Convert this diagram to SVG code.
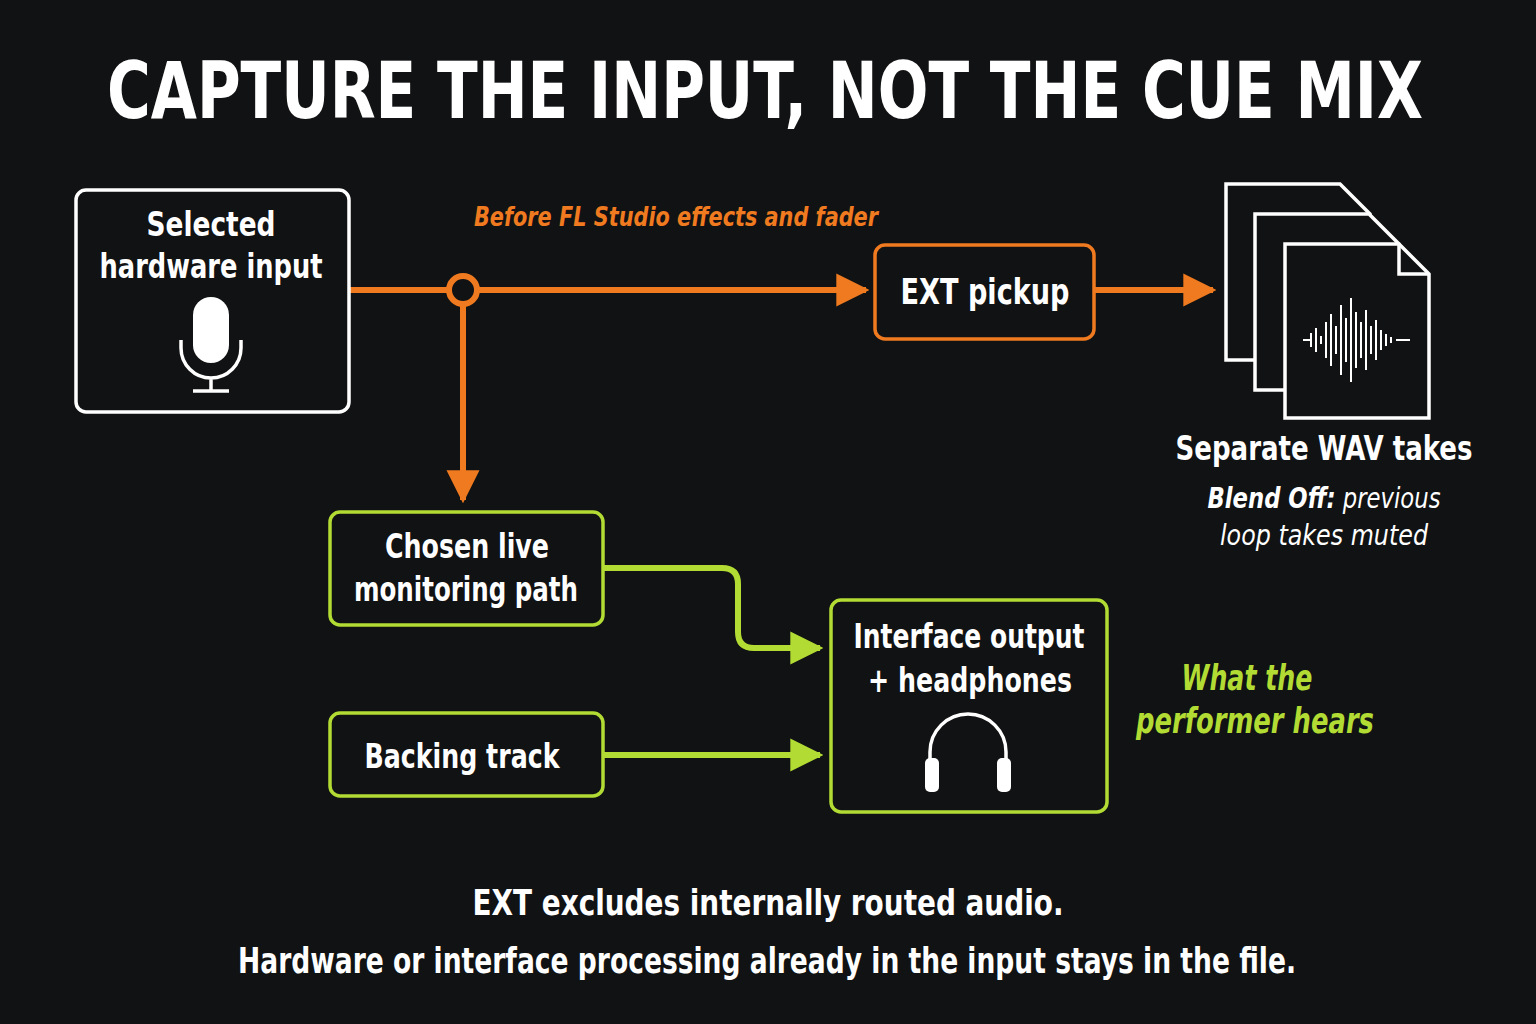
<svg xmlns="http://www.w3.org/2000/svg" width="1536" height="1024" viewBox="0 0 1536 1024">
<defs>
<style>
.t{font-family:"DejaVu Sans Condensed","DejaVu Sans",sans-serif;font-weight:bold;fill:#fff;text-anchor:middle}
.i{font-family:"DejaVu Sans Condensed","DejaVu Sans",sans-serif;font-style:italic;text-anchor:middle}
.w{fill:none;stroke:#fff;stroke-width:3.5}
.o{fill:none;stroke:#f07a1f;stroke-width:6}
.g{fill:none;stroke:#b2dc34;stroke-width:6}
.box{stroke-width:3.5;fill:#111213}
</style>
<marker id="ao" viewBox="0 0 10 10" refX="9" refY="5" markerWidth="5.5" markerHeight="6" orient="auto" markerUnits="strokeWidth"><path d="M0,0L10,5L0,10z" fill="#f07a1f"/></marker>
<marker id="ag" viewBox="0 0 10 10" refX="9" refY="5" markerWidth="5.5" markerHeight="6" orient="auto" markerUnits="strokeWidth"><path d="M0,0L10,5L0,10z" fill="#b2dc34"/></marker>
</defs>
<rect width="1536" height="1024" fill="#111213"/>
<text class="t" x="765" y="118" font-size="78" textLength="1316" lengthAdjust="spacingAndGlyphs">CAPTURE THE INPUT, NOT THE CUE MIX</text>

<g id="connectors">
<path class="o" d="M349,290H866" marker-end="url(#ao)"/>
<path class="o" d="M463,305V500" marker-end="url(#ao)"/>
<circle cx="463" cy="290" r="14" fill="#111213" stroke="#f07a1f" stroke-width="6"/>
<path class="o" d="M1094,290H1213" marker-end="url(#ao)"/>
<path class="g" d="M603,568H722Q738,568 738,584V632Q738,648 754,648H820" marker-end="url(#ag)"/>
<path class="g" d="M603,755H820" marker-end="url(#ag)"/>
<text class="i" x="676" y="226" font-weight="bold" font-size="26" fill="#f07a1f" textLength="404" lengthAdjust="spacingAndGlyphs">Before FL Studio effects and fader</text>
</g>

<g id="input">
<rect class="box" x="76" y="190" width="273" height="222" rx="10" stroke="#fff"/>
<text class="t" x="211" y="236" font-size="34" textLength="129" lengthAdjust="spacingAndGlyphs">Selected</text>
<text class="t" x="211" y="278" font-size="34" textLength="223" lengthAdjust="spacingAndGlyphs">hardware input</text>
<rect x="193" y="297" width="36" height="66" rx="18" fill="#fff"/>
<path class="w" d="M181,340v8a30,30 0 0 0 60,0v-8M211,378v13M193,391h36" stroke-width="5"/>
</g>

<g id="ext">
<rect class="box" x="875" y="245" width="219" height="94" rx="10" stroke="#f07a1f"/>
<text class="t" x="985" y="304" font-size="36" textLength="169" lengthAdjust="spacingAndGlyphs">EXT pickup</text>
</g>

<g id="wav">
<path d="M1226,184h114l30,30v146h-144z" fill="#111213" stroke="#fff" stroke-width="3.5"/>
<path d="M1255,214h114l30,30v146h-144z" fill="#111213" stroke="#fff" stroke-width="3.5"/>
<path d="M1285,244h114l30,30v144h-144z" fill="#111213" stroke="#fff" stroke-width="3.5"/>
<path class="w" d="M1399,244v30h30" />
<path d="M1303,340h8M1311,333v14M1316,328v24M1321,336v8M1326,322v36M1331,314v52M1336,326v28M1341,305v70M1346,318v44M1351,298v84M1356,312v56M1361,322v36M1366,310v60M1371,326v28M1376,320v40M1381,330v20M1386,334v12M1391,337v6M1396,340h14" stroke="#fff" stroke-width="2" fill="none"/>
<text class="t" x="1324" y="460" font-size="34" textLength="297" lengthAdjust="spacingAndGlyphs">Separate WAV takes</text>
<text class="i" x="1324" y="508" font-size="28" fill="#fff" textLength="233" lengthAdjust="spacingAndGlyphs"><tspan font-weight="bold">Blend Off:</tspan> previous</text>
<text class="i" x="1324" y="545" font-size="28" fill="#fff" textLength="208" lengthAdjust="spacingAndGlyphs">loop takes muted</text>
</g>

<g id="monitor">
<rect class="box" x="330" y="512" width="273" height="113" rx="10" stroke="#b2dc34"/>
<text class="t" x="467" y="558" font-size="34" textLength="164" lengthAdjust="spacingAndGlyphs">Chosen live</text>
<text class="t" x="466" y="601" font-size="34" textLength="224" lengthAdjust="spacingAndGlyphs">monitoring path</text>
</g>

<g id="backing">
<rect class="box" x="330" y="713" width="273" height="83" rx="10" stroke="#b2dc34"/>
<text class="t" x="462" y="768" font-size="34" textLength="195" lengthAdjust="spacingAndGlyphs">Backing track</text>
</g>

<g id="interface">
<rect class="box" x="831" y="600" width="276" height="212" rx="10" stroke="#b2dc34"/>
<text class="t" x="969" y="648" font-size="34" textLength="231" lengthAdjust="spacingAndGlyphs">Interface output</text>
<text class="t" x="970" y="692" font-size="34" textLength="204" lengthAdjust="spacingAndGlyphs">+ headphones</text>
<path class="w" d="M930,770v-18a38,38 0 0 1 76,0v18" stroke-width="5"/>
<rect x="925" y="758" width="14" height="34" rx="5" fill="#fff"/>
<rect x="997" y="758" width="14" height="34" rx="5" fill="#fff"/>
</g>

<g id="performer">
<text class="i" x="1247" y="690" font-weight="bold" font-size="36" fill="#b2dc34" textLength="131" lengthAdjust="spacingAndGlyphs">What the</text>
<text class="i" x="1255" y="733" font-weight="bold" font-size="36" fill="#b2dc34" textLength="238" lengthAdjust="spacingAndGlyphs">performer hears</text>
</g>

<text class="t" x="768" y="915" font-size="36" textLength="591" lengthAdjust="spacingAndGlyphs">EXT excludes internally routed audio.</text>
<text class="t" x="767" y="973" font-size="36" textLength="1058" lengthAdjust="spacingAndGlyphs">Hardware or interface processing already in the input stays in the file.</text>
</svg>
